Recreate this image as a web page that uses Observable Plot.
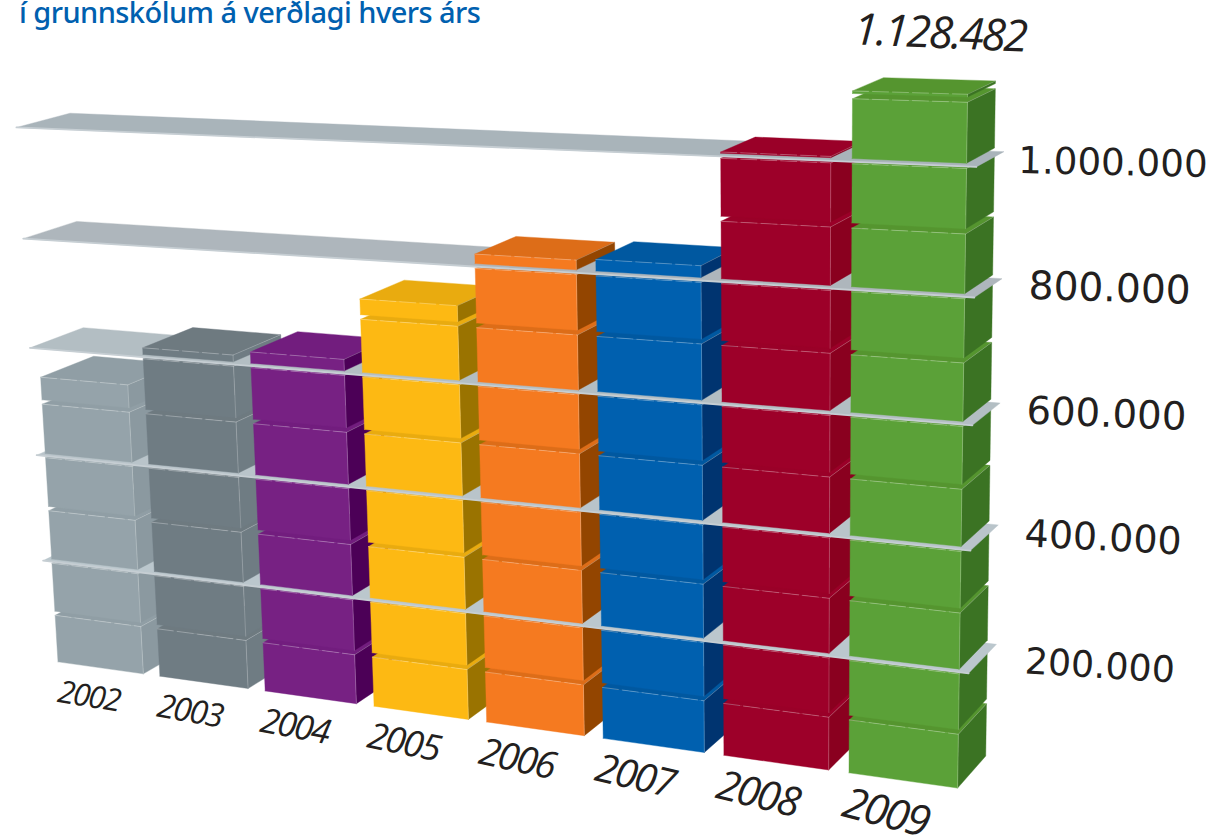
<!DOCTYPE html>
<html lang="is">
<head>
<meta charset="utf-8">
<script src="https://cdn.jsdelivr.net/npm/d3@7"></script>
<script src="https://cdn.jsdelivr.net/npm/@observablehq/plot@0.6"></script>
<style>
html,body{margin:0;padding:0;background:#fff;overflow:hidden}
#wrap{position:relative;width:1230px;height:836px;overflow:hidden}
#title{position:absolute;left:19px;top:-13px;margin:0;font:500 29px/50px "Noto Sans",sans-serif;letter-spacing:-0.55px;color:#0060af;white-space:nowrap}
svg{display:block}
.tight text{letter-spacing:-0.05em}
</style>
</head>
<body>
<div id="wrap">
<h1 id="title">í grunnskólum á verðlagi hvers árs</h1>
<div id="chart"></div>
</div>
<script>
const years = [2002,2003,2004,2005,2006,2007,2008,2009];
const barTops = [550000,620000,628000,735000,824000,827000,1010000,1112000];
const topLabel = "1.128.482";
const frontColors = ["#95a3aa","#6f7c83","#772183","#fdb913","#f57a20","#0060af","#9d0029","#5ba138"];
const sideColors  = ["#8b99a0","#6f7c83","#4c0057","#9a7300","#934500","#003470","#8a001f","#3b7323"];
const topColors   = ["#909ea5","#6e7a80","#721d7e","#e9ab0f","#dd6d18","#0058a0","#9a0028","#55952f"];
const gridValues = [200000,400000,600000,800000,1000000];
const gridLabels = ["200.000","400.000","600.000","800.000","1.000.000"];
const gridColors = ["#bbc7cd","#b9c4ca","#b3bec3","#aeb6bc","#a9b4ba"];
const labelSizes = [36.3,38,38.7,39.2,37.2];
const labelLifts = [40000,44000,37000,29000,17000];
const blockSize = 100000;
const gapSize = 8000;
const baseLift = 10000;

// Perspective: the front plane of the bars, and the vanishing point of their depth.
const corners = {p00:[57.8,666.5], p10:[957,793.5], p11:[966,168], p01:[25,129]};
const vanish = [2000,-400], depth = 0.027, vMax = 1000000;
const pitch = 1/7.84, barW = 0.84*pitch;
const H = (() => {
  const [x0,y0]=corners.p00,[x1,y1]=corners.p10,[x2,y2]=corners.p11,[x3,y3]=corners.p01;
  const dx1=x1-x2,dx2=x3-x2,sx=x0-x1+x2-x3,dy1=y1-y2,dy2=y3-y2,sy=y0-y1+y2-y3;
  const den=dx1*dy2-dx2*dy1, g=(sx*dy2-dx2*sy)/den, h=(dx1*sy-sx*dy1)/den;
  return {a:x1-x0+g*x1,b:x3-x0+h*x3,c:x0,d:y1-y0+g*y1,e:y3-y0+h*y3,f:y0,g,h};
})();
const warp = u => 0.02*u*(1-u);
const proj = (u0,val) => { const u=u0+warp(u0), v=val/vMax, w=H.g*u+H.h*v+1;
  return [(H.a*u+H.b*v+H.c)/w,(H.d*u+H.e*v+H.f)/w]; };
const back = p => [p[0]+depth*(vanish[0]-p[0]), p[1]+depth*(vanish[1]-p[1])];

let uid = 0;
const toRows = (pts,color) => { const id=uid++; return [...pts,pts[0]].map(p=>({id,x:p[0],y:p[1],color})); };
const toLine = pts => { const id=uid++; return pts.map(p=>({id,x:p[0],y:p[1]})); };

const levels = d3.range(7).map(()=>years.map(()=>({polys:[],solid:[],dashed:[]})));
years.forEach((yr,i)=>{
  const u0=i*pitch, u1=u0+barW, n=Math.floor(barTops[i]/blockSize);
  for(let k=0;k<=n;k++){
    const lo=k?k*blockSize+gapSize:baseLift, hi=k<n?(k+1)*blockSize:barTops[i];
    const L=levels[Math.floor(k/2)][i];
    const a=proj(u0,lo),b=proj(u1,lo),c=proj(u1,hi),d=proj(u0,hi);
    L.polys.push(...toRows([d,c,back(c),back(d)],topColors[i]));
    L.polys.push(...toRows([b,back(b),back(c),c],sideColors[i]));
    L.polys.push(...toRows([a,b,c,d],frontColors[i]));
    L.solid.push(...toLine([b,c,back(c)]));
    L.dashed.push(...toLine([d,c]));
  }
});

const marks=[];
const poly = rows => Plot.line(rows,{x:"x",y:"y",z:"id",fill:d=>d.color,stroke:d=>d.color,strokeWidth:0.4});
levels.forEach((bars,li)=>{
  bars.forEach(L=>{
    if(!L.polys.length) return;
    marks.push(poly(L.polys));
    marks.push(Plot.line(L.solid,{x:"x",y:"y",z:"id",stroke:"#fff",strokeOpacity:0.3,strokeWidth:0.7}));
    marks.push(Plot.line(L.dashed,{x:"x",y:"y",z:"id",stroke:"#fff",strokeOpacity:0.4,strokeWidth:0.7,strokeDasharray:"16 4"}));
  });
  if(li<gridValues.length){
    const v=gridValues[li]+3000;
    const a=proj(-0.011,v), b=proj(1.009,v);
    marks.push(poly(toRows([a,b,back(b),back(a)],gridColors[li])));
    marks.push(Plot.line(toLine([a,b]),{x:"x",y:"y",z:"id",stroke:"#c6ced3",strokeWidth:1.8}));
  }
});

const labelRows = gridValues.map((v,i)=>{ const p=proj(1.132,v+labelLifts[i]); return {text:gridLabels[i],x:p[0],y:p[1],size:labelSizes[i],rot:3.6-i*0.6}; });
marks.push(Plot.text(labelRows,{x:"x",y:"y",text:"text",fontSize:"size",rotate:"rot",fontFamily:"DejaVu Sans",fill:"#231f20",textAnchor:"middle"}));

const yearRows = years.map((yr,i)=>{ const uc=i*pitch+barW/2; const p=proj(uc-0.016-warp(uc),-50000); return {text:String(yr),x:p[0],y:p[1],size:31+i*1.7,rot:9+i*0.8}; });
marks.push(Plot.text(yearRows,{className:"tight",x:"x",y:"y",text:"text",fontSize:"size",rotate:"rot",fontFamily:"Open Sans",fontStyle:"italic",fontWeight:500,fill:"#231f20",textAnchor:"middle"}));

const topP = proj(7*pitch+barW*0.755,1128482+73000);
marks.push(Plot.text([{text:topLabel,x:topP[0],y:topP[1]}],{className:"tight",x:"x",y:"y",text:"text",fontSize:44,rotate:2.5,fontFamily:"Open Sans",fontStyle:"italic",fontWeight:500,fill:"#231f20",textAnchor:"middle"}));

const chart = Plot.plot({
  width:1230,height:836,margin:0,
  x:{domain:[0,1230],range:[0,1230],axis:null},
  y:{domain:[0,836],range:[0,836],axis:null},
  color:{type:"identity"},
  style:{background:"transparent"},
  marks
});
document.getElementById("chart").append(chart);
</script>
</body>
</html>
